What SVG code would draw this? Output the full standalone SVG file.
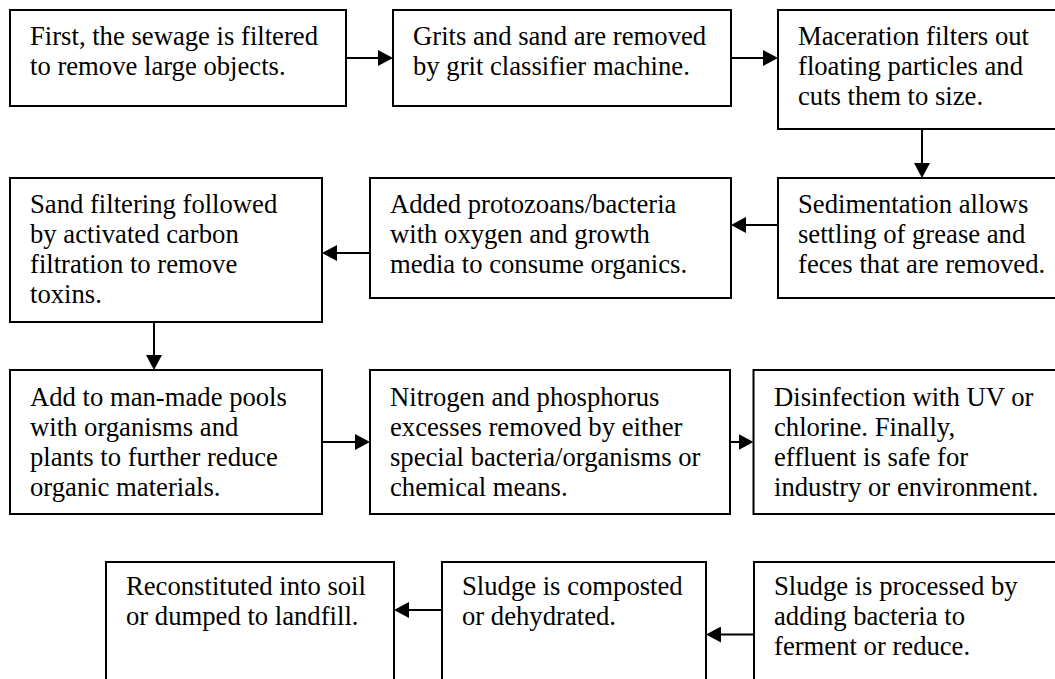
<svg xmlns="http://www.w3.org/2000/svg" width="1055" height="679" viewBox="0 0 1055 679">
<style>
  .box { fill: #ffffff; stroke: #000000; stroke-width: 2; }
  .lbl { font-family: "Liberation Serif", "Times New Roman", serif; font-size: 26.67px; fill: #000000; }
  .conn { stroke: #000000; stroke-width: 2; fill: none; }
</style>
<defs>
  <marker id="ah" viewBox="0 0 16 16" markerWidth="16" markerHeight="16" refX="1" refY="8" orient="auto" markerUnits="userSpaceOnUse">
    <path d="M0,0 L15,8 L0,16 z" fill="#000000"/>
  </marker>
</defs>
<rect width="1055" height="679" fill="#ffffff"/>

<g id="connectors">
  <line class="conn" x1="346" y1="58" x2="379" y2="58" marker-end="url(#ah)"/>
  <line class="conn" x1="731" y1="58" x2="764" y2="58" marker-end="url(#ah)"/>
  <line class="conn" x1="922" y1="129" x2="922" y2="164" marker-end="url(#ah)"/>
  <line class="conn" x1="778" y1="225" x2="745" y2="225" marker-end="url(#ah)"/>
  <line class="conn" x1="370" y1="253" x2="336" y2="253" marker-end="url(#ah)"/>
  <line class="conn" x1="154" y1="322" x2="154" y2="356" marker-end="url(#ah)"/>
  <line class="conn" x1="322" y1="442" x2="356" y2="442" marker-end="url(#ah)"/>
  <line class="conn" x1="730" y1="442" x2="739.5" y2="442" marker-end="url(#ah)"/>
  <line class="conn" x1="442" y1="610" x2="408" y2="610" marker-end="url(#ah)"/>
  <line class="conn" x1="754" y1="634.5" x2="720" y2="634.5" marker-end="url(#ah)"/>
</g>

<g id="n1">
  <rect class="box" x="10" y="10" width="336" height="96"/>
  <text class="lbl" x="30" y="45">First, the sewage is filtered</text>
  <text class="lbl" x="30" y="75">to remove large objects.</text>
</g>
<g id="n2">
  <rect class="box" x="393" y="10" width="338" height="96"/>
  <text class="lbl" x="413" y="45">Grits and sand are removed</text>
  <text class="lbl" x="413" y="75">by grit classifier machine.</text>
</g>
<g id="n3">
  <rect class="box" x="778" y="10" width="290" height="119"/>
  <text class="lbl" x="798" y="45">Maceration filters out</text>
  <text class="lbl" x="798" y="75">floating particles and</text>
  <text class="lbl" x="798" y="105">cuts them to size.</text>
</g>
<g id="n4">
  <rect class="box" x="778" y="178" width="290" height="120"/>
  <text class="lbl" x="798" y="213">Sedimentation allows</text>
  <text class="lbl" x="798" y="243">settling of grease and</text>
  <text class="lbl" x="798" y="273">feces that are removed.</text>
</g>
<g id="n5">
  <rect class="box" x="370" y="178" width="361" height="120"/>
  <text class="lbl" x="390" y="213">Added protozoans/bacteria</text>
  <text class="lbl" x="390" y="243">with oxygen and growth</text>
  <text class="lbl" x="390" y="273">media to consume organics.</text>
</g>
<g id="n6">
  <rect class="box" x="10" y="178" width="312" height="144"/>
  <text class="lbl" x="30" y="213">Sand filtering followed</text>
  <text class="lbl" x="30" y="243">by activated carbon</text>
  <text class="lbl" x="30" y="273">filtration to remove</text>
  <text class="lbl" x="30" y="303">toxins.</text>
</g>
<g id="n7">
  <rect class="box" x="10" y="370" width="312" height="144"/>
  <text class="lbl" x="30" y="406">Add to man-made pools</text>
  <text class="lbl" x="30" y="436">with organisms and</text>
  <text class="lbl" x="30" y="466">plants to further reduce</text>
  <text class="lbl" x="30" y="496">organic materials.</text>
</g>
<g id="n8">
  <rect class="box" x="370" y="370" width="360" height="144"/>
  <text class="lbl" x="390" y="406">Nitrogen and phosphorus</text>
  <text class="lbl" x="390" y="436">excesses removed by either</text>
  <text class="lbl" x="390" y="466">special bacteria/organisms or</text>
  <text class="lbl" x="390" y="496">chemical means.</text>
</g>
<g id="n9">
  <rect class="box" x="753.5" y="370" width="310" height="144"/>
  <text class="lbl" x="774" y="406">Disinfection with UV or</text>
  <text class="lbl" x="774" y="436">chlorine. Finally,</text>
  <text class="lbl" x="774" y="466">effluent is safe for</text>
  <text class="lbl" x="774" y="496">industry or environment.</text>
</g>
<g id="n10">
  <rect class="box" x="106" y="562" width="288" height="140"/>
  <text class="lbl" x="126" y="595">Reconstituted into soil</text>
  <text class="lbl" x="126" y="625">or dumped to landfill.</text>
</g>
<g id="n11">
  <rect class="box" x="442" y="562" width="264" height="140"/>
  <text class="lbl" x="462" y="595">Sludge is composted</text>
  <text class="lbl" x="462" y="625">or dehydrated.</text>
</g>
<g id="n12">
  <rect class="box" x="754" y="562" width="310" height="140"/>
  <text class="lbl" x="774" y="595">Sludge is processed by</text>
  <text class="lbl" x="774" y="625">adding bacteria to</text>
  <text class="lbl" x="774" y="655">ferment or reduce.</text>
</g>
</svg>
